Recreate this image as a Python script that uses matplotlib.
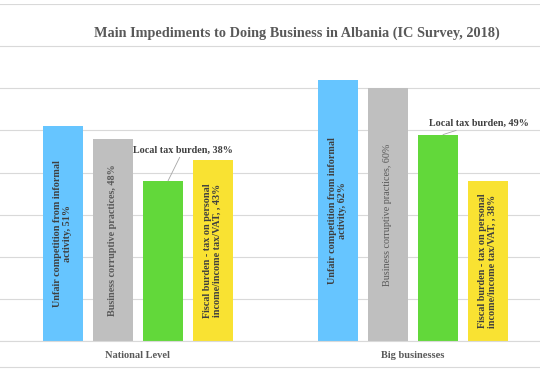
import numpy as np
import matplotlib.pyplot as plt
from matplotlib.lines import Line2D

groups = ['National Level', 'Big businesses']
series = ['Unfair competition from informal activity',
          'Business corruptive practices',
          'Local tax burden',
          'Fiscal burden - tax on personal income/income tax/VAT, ']
values = {
    'National Level': [51, 48, 38, 43],
    'Big businesses': [62, 60, 49, 38],
}
# text inside bars (line breaks as in the source chart)
inner_labels = {
    'National Level': ['Unfair competition from informal\nactivity, 51%',
                       'Business corruptive practices, 48%',
                       None,
                       'Fiscal burden - tax on personal\nincome/income tax/VAT, , 43%'],
    'Big businesses': ['Unfair competition from informal\nactivity, 62%',
                       'Business corruptive practices, 60%',
                       None,
                       'Fiscal burden - tax on personal\nincome/income tax/VAT, , 38%'],
}
colors = ['#66C5FF', '#BFBFBF', '#62D83A', '#F9E232']
text_colors = ['#3F3F3F', '#595959', '#3F3F3F', '#3F3F3F']

plt.rcParams['font.family'] = ['Liberation Serif', 'DejaVu Serif']

fig = plt.figure(figsize=(5.4, 3.7), dpi=100)
ax = fig.add_axes([0, 29 / 370, 1, 337 / 370])

width = 40 / 275
step = 50 / 275
x = np.arange(len(groups))
for i, s in enumerate(series):
    vals = [values[g][i] for g in groups]
    pos = x + (i - 1.5) * step
    bars = ax.bar(pos, vals, width, color=colors[i], zorder=2)
    for j, g in enumerate(groups):
        lab = inner_labels[g][i]
        if lab is None:
            continue
        weight = 'normal' if (i == 1 and j == 1) else 'bold'
        ax.text(pos[j], vals[j] / 2, lab, rotation=90, ha='center', va='center',
                fontsize=7.3, fontweight=weight, color=text_colors[i],
                linespacing=1.15, zorder=3)

# local tax burden callouts
offsets = [(11, 19), (26, 5)]
for j, g in enumerate(groups):
    v = values[g][2]
    pos = x[j] + 0.5 * step
    ax.annotate(f'Local tax burden, {v}%', xy=(pos + 0.02, v), xycoords='data',
                xytext=offsets[j], textcoords='offset points',
                ha='center', va='bottom', fontsize=7.3, fontweight='bold',
                color='#3F3F3F',
                arrowprops=dict(arrowstyle='-', color='#A6A6A6', lw=0.6,
                                shrinkA=0, shrinkB=0))

ax.set_xlim(-0.5, 1.4636)
ax.set_ylim(0, 80)
ax.set_yticks(np.arange(0, 81, 10))
ax.yaxis.grid(True, color='#D9D9D9', lw=0.8, zorder=0)
ax.tick_params(left=False, labelleft=False, bottom=False, length=0)
ax.set_xticks(x)
ax.set_xticklabels(groups, fontsize=7.5, fontweight='bold', color='#595959')
ax.tick_params(axis='x', pad=7)
for sp in ['top', 'right', 'left']:
    ax.spines[sp].set_visible(False)
ax.spines['bottom'].set_color('#D9D9D9')

fig.text(0.549, 1 - 33 / 370, 'Main Impediments to Doing Business in Albania (IC Survey, 2018)',
         ha='center', va='center', fontsize=10.3, fontweight='bold', color='#595959')
fig.add_artist(Line2D([0, 1], [1 - 367 / 370] * 2, color='#D9D9D9', lw=0.8))

fig.savefig('out.png', dpi=100)
